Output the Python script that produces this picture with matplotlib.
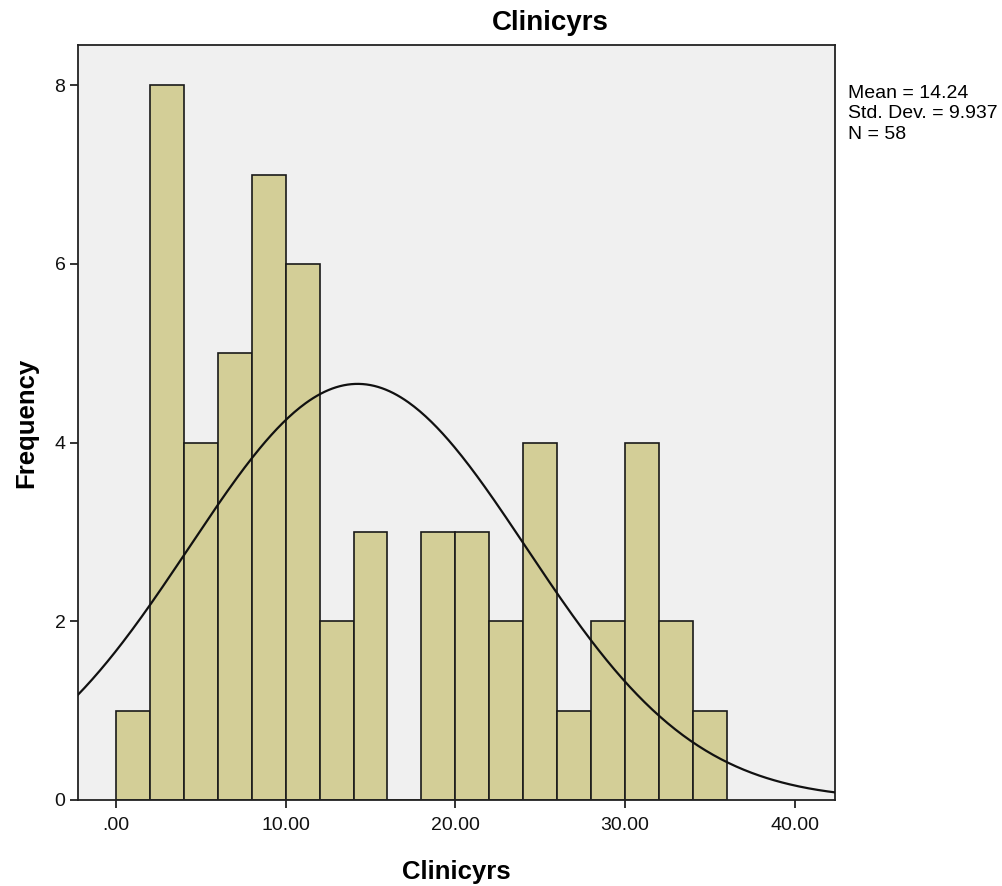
import matplotlib.pyplot as plt
import numpy as np

plt.rcParams['font.family'] = ['Liberation Sans', 'DejaVu Sans']

# histogram bins (width 2) and counts
bin_edges = [0, 2, 4, 6, 8, 10, 12, 14, 16, 18, 20, 22, 24, 26, 28, 30, 32, 34, 36]
counts = [1, 8, 4, 5, 7, 6, 2, 3, 0, 3, 3, 2, 4, 1, 2, 4, 2, 1]
mean_val = 14.24
std_val = 9.937
n_val = 58
xticks = [0, 10, 20, 30, 40]
xtick_labels = ['.00', '10.00', '20.00', '30.00', '40.00']
yticks = [0, 2, 4, 6, 8]

fig = plt.figure(figsize=(10.02, 8.86), dpi=100)
ax = fig.add_axes([0.0778, 0.0971, 0.7555, 0.8521])
ax.set_facecolor('#F0F0F0')

lefts = bin_edges[:-1]
widths = np.diff(bin_edges)
ax.bar(lefts, counts, width=widths, align='edge', color='#D3CE97',
       edgecolor='#1a1a1a', linewidth=1.2, zorder=2)

# normal curve scaled to counts
xs = np.linspace(-2.3, 42.5, 400)
scale = n_val * widths[0]
ys = scale / (std_val * np.sqrt(2 * np.pi)) * np.exp(-0.5 * ((xs - mean_val) / std_val) ** 2)
ax.plot(xs, ys, color='#111111', linewidth=1.6, zorder=3)

ax.set_xlim(-2.24, 42.37)
ax.set_ylim(0, 8.45)
ax.set_xticks(xticks)
ax.set_xticklabels(xtick_labels)
ax.set_yticks(yticks)
ax.tick_params(axis='both', direction='out', length=6, width=1.2, labelsize=14, colors='#111111')
ax.tick_params(axis='x', pad=6)
ax.tick_params(axis='y', pad=3)
for s in ax.spines.values():
    s.set_color('#222222')
    s.set_linewidth(1.3)

fig.text(0.549, 0.974, 'Clinicyrs', fontsize=20, fontweight='bold', ha='center', va='center')
ax.set_xlabel('Clinicyrs', fontsize=18.5, fontweight='bold', labelpad=19)
ax.set_ylabel('Frequency', fontsize=18.5, fontweight='bold', labelpad=12)

fig.text(0.846, 0.904, 'Mean = %.2f\nStd. Dev. = %.3f\nN = %d' % (mean_val, std_val, n_val),
         fontsize=14, va='top', ha='left', linespacing=1.25)

fig.savefig('out.png', dpi=100)
